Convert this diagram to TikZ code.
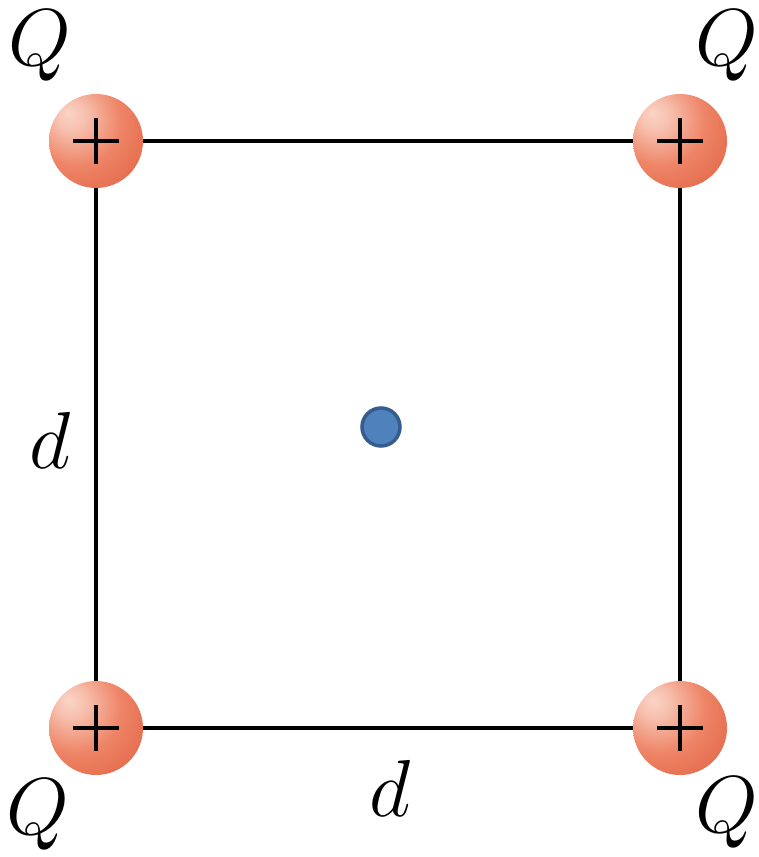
\RequirePackage{fix-cm}
\documentclass[tikz,border=0pt]{standalone}
\usepackage{tikz}

\definecolor{ballhi}{RGB}{250,212,198}
\definecolor{ballmid}{RGB}{238,132,102}
\definecolor{balllow}{RGB}{224,94,64}
\definecolor{balledge}{RGB}{205,78,52}
\definecolor{dotfill}{RGB}{79,129,189}
\definecolor{dotline}{RGB}{52,92,142}

\pgfdeclareradialshading{chargeball}{\pgfpoint{-15bp}{15bp}}{%
  color(0bp)=(ballhi); color(8bp)=(ballhi!75!ballmid); color(24bp)=(ballmid);
  color(46bp)=(balllow); color(62bp)=(balledge); color(80bp)=(balledge)}

\tikzset{
  charge/.style={circle, minimum size=1.88cm, inner sep=0pt, shading=chargeball},
  side/.style={line width=2pt, black},
  plusline/.style={line width=2pt, black},
  lbl/.style={font=\fontsize{46}{52}\selectfont},
}

\begin{document}
\begin{tikzpicture}[x=0.02cm, y=-0.02cm]
	\useasboundingbox (0,0) rectangle (759,857);
	\node [charge] (tl) at (96,141) {};
	\node [charge] (tr) at (680,141) {};
	\node [charge] (bl) at (96,728) {};
	\node [charge] (br) at (680,728) {};
	\draw [side] (tl) -- (tr);
	\draw [side] (tr) -- (br);
	\draw [side] (br) -- (bl);
	\draw [side] (bl) -- (tl);
	\foreach \c in {tl, tr, bl, br} {
		\draw [plusline] ([xshift=-0.46cm]\c.center) -- ([xshift=0.46cm]\c.center);
		\draw [plusline] ([yshift=-0.46cm]\c.center) -- ([yshift=0.46cm]\c.center);
	}
	\node [circle, minimum size=0.76cm, inner sep=0pt, fill=dotfill, draw=dotline, line width=2pt] (p) at (381,427) {};
	\node [lbl] (qtl) at (40,46) {$Q$};
	\node [lbl] (qtr) at (727,46) {$Q$};
	\node [lbl] (qbl) at (38,815) {$Q$};
	\node [lbl] (qbr) at (727,813) {$Q$};
	\node [lbl] (dl) at (50,440) {$d$};
	\node [lbl] (db) at (390,788) {$d$};
\end{tikzpicture}
\end{document}
